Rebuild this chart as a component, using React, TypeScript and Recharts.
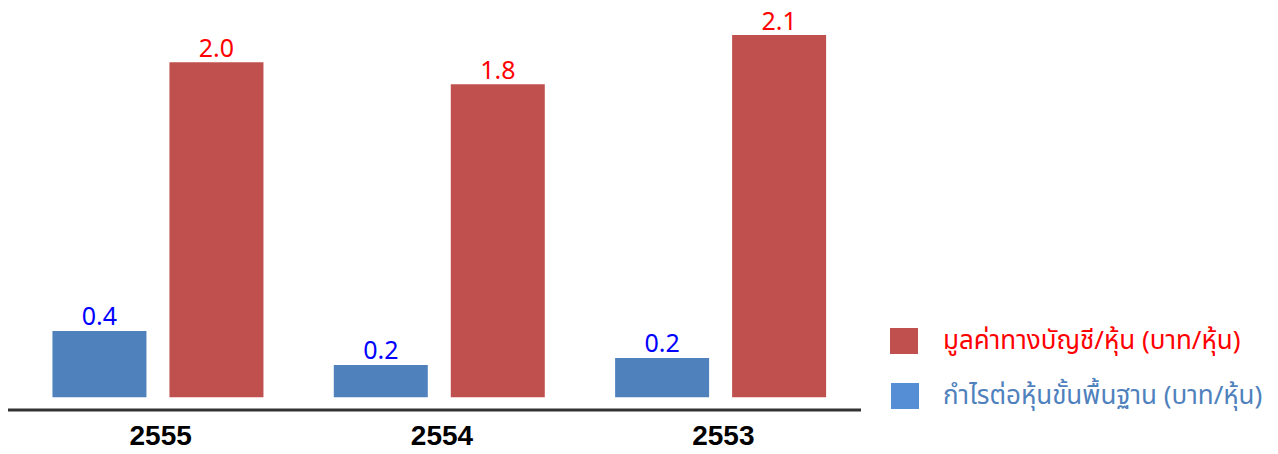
import React from "react";
import { BarChart, Bar, XAxis, YAxis, LabelList } from "recharts";

const years = ["2555", "2554", "2553"];
const epsValues = [0.39, 0.19, 0.23];
const bookValues = [1.97, 1.84, 2.13];
const epsName = "กำไรต่อหุ้นขั้นพื้นฐาน (บาท/หุ้น)";
const bookName = "มูลค่าทางบัญชี/หุ้น (บาท/หุ้น)";

const data = years.map((y, i) => ({ year: y, eps: epsValues[i], book: bookValues[i] }));

const FONT = "Tahoma, 'Noto Sans Thai', 'Noto Sans', 'DejaVu Sans', sans-serif";

const YearTick = (props: any) => {
  const { x, y, payload } = props;
  return (
    <text
      x={x + 3}
      y={y}
      dy={20}
      textAnchor="middle"
      fontFamily="'Liberation Sans', Arial, sans-serif"
      fontWeight="bold"
      fontSize={28}
      fill="#000"
    >
      {payload.value}
    </text>
  );
};

const fmt = (v: any) => Number(v).toFixed(1);

export default function App() {
  return (
    <div style={{ position: "absolute", left: 8, top: 0, width: 1262, height: 454, fontFamily: FONT }}>
      <BarChart
        width={1262}
        height={454}
        data={data}
        margin={{ top: 23, right: 409, bottom: 0, left: 0 }}
        barGap={23}
        barCategoryGap="12.6%"
      >
        <XAxis
          dataKey="year"
          axisLine={{ stroke: "#333333", strokeWidth: 3 }}
          tickLine={false}
          tickSize={0}
          tickMargin={15}
          height={44}
          padding={{ left: 9, right: 0 }}
          tick={<YearTick />}
          interval={0}
        />
        <YAxis hide type="number" domain={[-0.075, 2.2]} allowDataOverflow />
        <Bar dataKey="eps" fill="#4F81BD" isAnimationActive={false}>
          <LabelList
            dataKey="eps"
            position="top"
            offset={6}
            formatter={fmt}
            fill="#0000FF"
            fontSize={25}
            fontFamily={FONT}
          />
        </Bar>
        <Bar dataKey="book" fill="#C0504D" isAnimationActive={false}>
          <LabelList
            dataKey="book"
            position="top"
            offset={5}
            formatter={fmt}
            fill="#FF0000"
            fontSize={25}
            fontFamily={FONT}
          />
        </Bar>
      </BarChart>
      <div style={{ position: "absolute", left: 882, top: 327, fontFamily: FONT }}>
        <div style={{ display: "flex", alignItems: "center", height: 28 }}>
          <div style={{ width: 28, height: 26, background: "#C0504D" }} />
          <span style={{ marginLeft: 25, color: "#FF0000", fontSize: 26, whiteSpace: "nowrap" }}>{bookName}</span>
        </div>
        <div style={{ display: "flex", alignItems: "center", height: 28, marginTop: 27 }}>
          <div style={{ width: 28, height: 26, background: "#558ED5", marginLeft: 1 }} />
          <span style={{ marginLeft: 24, color: "#4F81BD", fontSize: 26, whiteSpace: "nowrap" }}>{epsName}</span>
        </div>
      </div>
    </div>
  );
}
